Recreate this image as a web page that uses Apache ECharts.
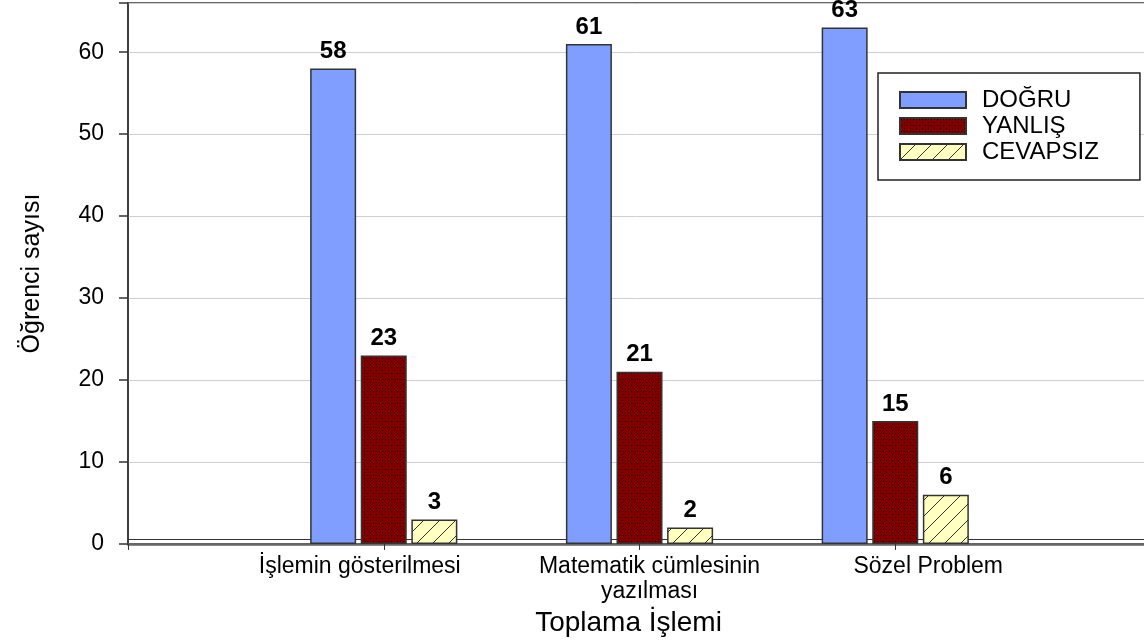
<!DOCTYPE html>
<html>
<head>
<meta charset="utf-8">
<script src="https://cdn.jsdelivr.net/npm/echarts@6/dist/echarts.min.js"></script>
<style>
  html, body { margin: 0; padding: 0; background: #fff; }
  #chart { width: 1144px; height: 641px; }
</style>
</head>
<body>
<div id="chart"></div>
<script>
// Answer counts per task type
const categories = ['İşlemin gösterilmesi', 'Matematik cümlesinin\nyazılması', 'Sözel Problem'];
const seriesNames = ['DOĞRU', 'YANLIŞ', 'CEVAPSIZ'];
const dogru = [58, 61, 63];
const yanlis = [23, 21, 15];
const cevapsiz = [3, 2, 6];
const yTicks = [0, 10, 20, 30, 40, 50, 60];

const FONT = '"Liberation Sans", Arial, sans-serif';

// Fill patterns: dotted maroon and hatched pale yellow
function dottedMaroon() {
  const c = document.createElement('canvas');
  c.width = 6; c.height = 6;
  const g = c.getContext('2d');
  g.fillStyle = '#800000';
  g.fillRect(0, 0, 6, 6);
  g.fillStyle = '#1a0000';
  g.fillRect(1, 1, 1, 1);
  g.fillRect(4, 4, 1, 1);
  g.fillStyle = '#4a0000';
  g.fillRect(4, 1, 1, 1);
  return c;
}
function hatchedYellow() {
  const s = 16;
  const c = document.createElement('canvas');
  c.width = s; c.height = s;
  const g = c.getContext('2d');
  g.fillStyle = '#ffffc0';
  g.fillRect(0, 0, s, s);
  g.strokeStyle = '#333';
  g.lineWidth = 1;
  g.beginPath();
  for (let k = -1; k <= 1; k++) {
    g.moveTo(k * s, s);
    g.lineTo(k * s + s, 0);
  }
  g.stroke();
  return c;
}

const fills = [
  '#7f9eff',
  { image: dottedMaroon(), repeat: 'repeat' },
  { image: hatchedYellow(), repeat: 'repeat' }
];
const values = [dogru, yanlis, cevapsiz];

// horizontal shift of each category label relative to its tick
const labelShift = [-24, 10, 33];
const xData = [''].concat(categories.map((c, i) => ({
  value: c,
  textStyle: {
    padding: labelShift[i] < 0 ? [0, -2 * labelShift[i], 0, 0] : [0, 0, 0, 2 * labelShift[i]]
  }
}))).concat(['']);

const chart = echarts.init(document.getElementById('chart'));

const series = seriesNames.map((name, i) => ({
  name: name,
  type: 'bar',
  barWidth: 46,
  barGap: '10%',
  z: 3,
  data: ['-'].concat(values[i]).concat(['-']),
  itemStyle: { color: fills[i], borderColor: '#333', borderWidth: 1.5 },
  label: {
    show: true,
    position: 'top',
    distance: 5,
    color: '#000',
    fontFamily: FONT,
    fontWeight: 'bold',
    fontSize: 24
  }
}));

// thin floor line just above the axis
series[0].markLine = {
  silent: true,
  z: 1,
  symbol: 'none',
  label: { show: false },
  lineStyle: { color: '#333', type: 'solid', width: 1 },
  data: [{ yAxis: 0.6 }]
};

chart.setOption({
  animation: false,
  backgroundColor: '#fff',
  textStyle: { fontFamily: FONT },
  grid: {
    left: 128, top: 3, bottom: 97, width: 1023,
    outerBoundsMode: 'none',
    containLabel: false,
    show: true, borderColor: '#333', borderWidth: 1.5
  },
  legend: {
    orient: 'vertical',
    left: 878, top: 73,
    padding: [15, 41, 16, 21],
    itemWidth: 66, itemHeight: 16, itemGap: 2,
    icon: 'rect',
    borderColor: '#222', borderWidth: 1.5,
    backgroundColor: '#fff',
    textStyle: { fontFamily: FONT, fontSize: 24, color: '#000', padding: [0, 0, 0, 11] },
    data: seriesNames
  },
  xAxis: {
    type: 'category',
    boundaryGap: false,
    data: xData,
    name: 'Toplama İşlemi',
    nameLocation: 'middle',
    nameGap: 62,
    nameTextStyle: { fontFamily: FONT, fontSize: 28, color: '#000', padding: [0, 22, 0, 0] },
    axisLine: { lineStyle: { color: '#666', width: 2.5 } },
    axisTick: { show: true, length: 6, lineStyle: { color: '#333', width: 1 } },
    axisLabel: {
      interval: 0,
      margin: 10,
      fontFamily: FONT, fontSize: 23, color: '#000',
      lineHeight: 25
    },
    splitLine: { show: false }
  },
  yAxis: {
    type: 'value',
    min: 0, max: 66, interval: 10,
    name: 'Öğrenci sayısı',
    nameLocation: 'middle',
    nameGap: 83,
    nameRotate: 90,
    nameTextStyle: { fontFamily: FONT, fontSize: 25, color: '#000' },
    axisLine: { show: true, lineStyle: { color: '#333', width: 1.5 } },
    axisTick: { show: true, inside: false, length: 9, lineStyle: { color: '#333', width: 1.5 } },
    axisLabel: {
      margin: 24,
      fontFamily: FONT, fontSize: 23, color: '#000',
      formatter: v => (yTicks.indexOf(v) >= 0 ? String(v) : '')
    },
    splitLine: { show: true, lineStyle: { color: '#cfcfcf', width: 1 } }
  },
  series: series
});
</script>
</body>
</html>
